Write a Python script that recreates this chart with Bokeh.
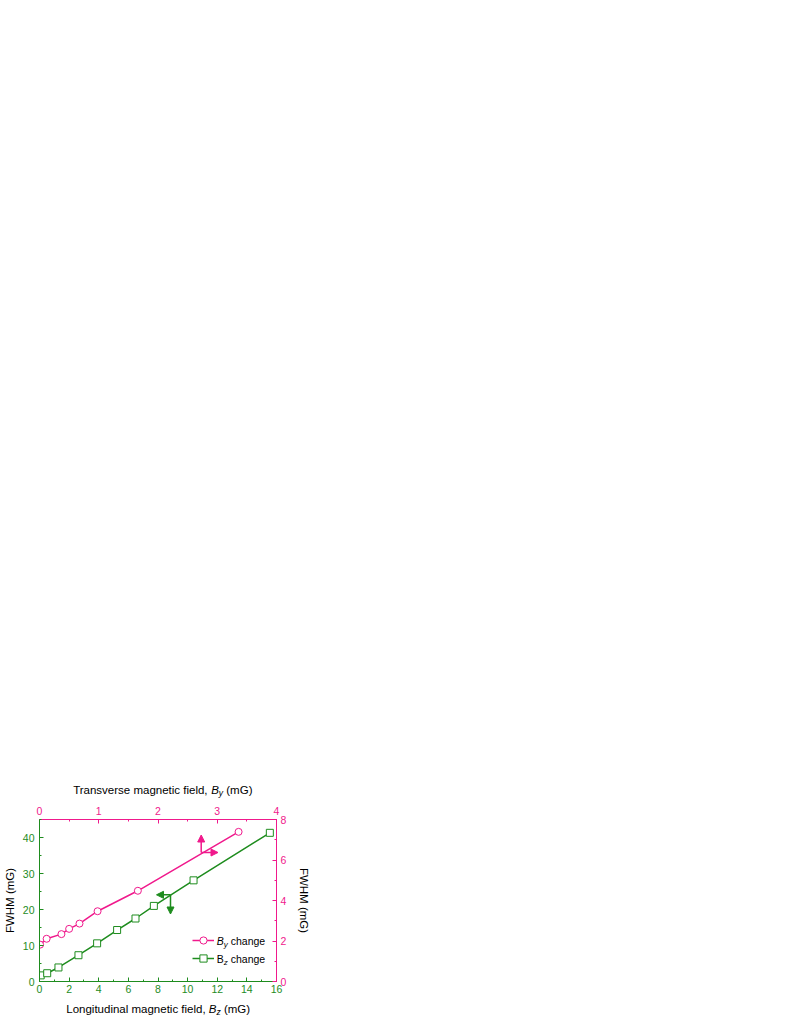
from bokeh.plotting import figure
from bokeh.layouts import column
from bokeh.models import (Range1d, LinearAxis, SingleIntervalTicker, Label, Arrow,
                          NormalHead, Legend, LegendItem, ColumnDataSource)
from bokeh.embed import file_html
from bokeh.resources import INLINE

# ---- data ----
by_field = [0.01, 0.12, 0.37, 0.50, 0.675, 0.98, 1.66, 3.36]      # Transverse field By (mG)
by_fwhm = [1.82, 2.11, 2.34, 2.60, 2.86, 3.47, 4.48, 7.39]        # FWHM (mG), right axis
bz_field = [0.08, 0.52, 1.28, 2.63, 3.89, 5.24, 6.48, 7.72, 10.4, 15.55]  # Longitudinal Bz (mG)
bz_fwhm = [1.7, 2.3, 3.9, 7.3, 10.6, 14.3, 17.5, 21.0, 28.1, 41.3]        # FWHM (mG), left axis

PINK = "#f0198c"
GREEN = "#1e8c1e"
FONT = "Liberation Sans"

# Arial / Liberation Sans advance widths (per 1000 em)
W = {'T': 611, 'r': 333, 'a': 556, 'n': 556, 's': 500, 'v': 500, 'e': 556, ' ': 278,
     'm': 833, 'g': 556, 't': 278, 'i': 222, 'c': 500, 'f': 278, 'l': 222, 'd': 556,
     ',': 278, 'L': 556, 'o': 556, 'u': 556, 'B': 667, 'y': 500, 'z': 500, '(': 333,
     'M': 833, 'G': 778, ')': 333, 'h': 556}


def tw(s, size):
    return sum(W.get(ch, 556) for ch in s) / 1000.0 * size


FW, FH = 237, 162
BL, BR, BT, BB = 37, 40, 21, 18
TOTAL_W = BL + FW + BR

p = figure(frame_width=FW, frame_height=FH,
           x_range=Range1d(0, 16), y_range=Range1d(0, 45),
           output_backend="svg", toolbar_location=None,
           min_border_left=BL, min_border_right=BR, min_border_top=BT, min_border_bottom=BB)
p.extra_x_ranges = {"by": Range1d(0, 4)}
p.extra_y_ranges = {"fw": Range1d(0, 8)}
p.add_layout(LinearAxis(x_range_name="by"), "above")
p.add_layout(LinearAxis(y_range_name="fw"), "right")
p.grid.visible = False
p.outline_line_color = None


def style(ax, color, interval):
    ax.ticker = SingleIntervalTicker(interval=interval, num_minor_ticks=2)
    ax.axis_line_color = color
    ax.axis_line_width = 1
    ax.major_tick_line_color = color
    ax.minor_tick_line_color = color
    ax.major_label_text_color = color
    ax.major_tick_in = 4
    ax.major_tick_out = 0
    ax.minor_tick_in = 2
    ax.minor_tick_out = 0
    ax.major_label_text_font = FONT
    ax.major_label_text_font_size = "10.5px"
    ax.major_label_standoff = 4
    ax.axis_label_text_font = FONT
    ax.axis_label_text_font_size = "11.5px"
    ax.axis_label_text_font_style = "normal"
    ax.axis_label_text_color = "black"


bottom = p.below[0]
left = p.left[0]
top = p.above[0]
right = p.right[0]
style(bottom, GREEN, 2)
style(left, GREEN, 10)
style(top, PINK, 1)
style(right, PINK, 2)
bottom.major_label_standoff = 3
top.major_label_standoff = 5
left.major_label_standoff = 5
left.axis_label = "FWHM (mG)"
left.axis_label_standoff = 4
right.axis_label = "FWHM (mG)"
right.axis_label_standoff = 9

# ---- data series ----
src_z = ColumnDataSource(dict(x=bz_field, y=bz_fwhm))
src_y = ColumnDataSource(dict(x=by_field, y=by_fwhm))

lz = p.line("x", "y", source=src_z, line_color=GREEN, line_width=1.5)
sz = p.scatter("x", "y", source=src_z, marker="square", size=7,
               fill_color="white", line_color=GREEN, line_width=1)
ly = p.line("x", "y", source=src_y, line_color=PINK, line_width=1.5,
            x_range_name="by", y_range_name="fw")
sy = p.scatter("x", "y", source=src_y, marker="circle", size=7,
               fill_color="white", line_color=PINK, line_width=1,
               x_range_name="by", y_range_name="fw")

# ---- legend (samples drawn by Bokeh, rich labels as text) ----
legend = Legend(items=[LegendItem(label=" ", renderers=[ly, sy]),
                       LegendItem(label=" ", renderers=[lz, sz])],
                location=(153, 14), padding=0, margin=0, spacing=0,
                glyph_width=22, glyph_height=18, label_height=18, label_width=1,
                label_standoff=0, label_text_font_size="1px",
                border_line_color=None, background_fill_alpha=0)
p.add_layout(legend, "center")


def rich(fig, parts, x0, yc):
    """parts: (text, size, style, dy); pieces placed left to right from x0 (frame px)."""
    x = x0
    for text, size, fstyle, dy in parts:
        lead = len(text) - len(text.lstrip(" "))
        x += tw(" " * lead, size)
        core = text.strip(" ")
        fig.add_layout(Label(x=x, y=yc + dy, x_units="screen", y_units="screen",
                             text=core, text_font=FONT, text_font_size=f"{size}px",
                             text_font_style=fstyle, text_color="black",
                             text_baseline="middle", text_align="left"))
        x += tw(text.lstrip(" "), size)


def centered(fig, parts, xc, yc):
    total = sum(tw(t, s) for t, s, _, _ in parts)
    rich(fig, parts, xc - total / 2.0, yc)


# legend texts
rich(p, [("B", 10.5, "italic", 0), ("y", 8, "italic", -3.5), (" change", 10.5, "normal", 0)],
     177.3, 41)
rich(p, [("B", 10.5, "normal", 0), ("z", 8, "italic", -3.5), (" change", 10.5, "normal", 0)],
     177.3, 22.7)

# ---- arrows linking each curve to its axes ----
for color, base, tips in [(PINK, (161.7, 129), [(161.7, 146.5), (178.5, 129)]),
                          (GREEN, (131, 86.7), [(131, 67.5), (117, 86.7)])]:
    for tip in tips:
        p.add_layout(Arrow(end=NormalHead(size=7, fill_color=color, line_color=color),
                           x_start=base[0], y_start=base[1], x_end=tip[0], y_end=tip[1],
                           start_units="screen", end_units="screen",
                           line_color=color, line_width=1.5))


# ---- axis titles with italic B and subscripts (text strips above / below the plot) ----
def text_fig(h):
    f = figure(width=TOTAL_W, height=h, x_range=Range1d(0, 1), y_range=Range1d(0, 1),
               output_backend="svg", toolbar_location=None,
               x_axis_location=None, y_axis_location=None, min_border=0)
    f.grid.visible = False
    f.outline_line_color = None
    return f


TOP_H = 798
BOT_H = 18
top_fig = text_fig(TOP_H)
bot_fig = text_fig(BOT_H)

centered(top_fig, [("Transverse magnetic field, ", 11.5, "normal", 0),
                   ("B", 11.5, "italic", 0), ("y", 8.5, "italic", -3.5),
                   (" (mG)", 11.5, "normal", 0)], 123.3, 9)
centered(bot_fig, [("Longitudinal magnetic field, ", 11.5, "normal", 0),
                   ("B", 11.5, "italic", 0), ("z", 8.5, "italic", -3.5),
                   (" (mG)", 11.5, "normal", 0)], 118.7, 9)

layout = column(top_fig, p, bot_fig, spacing=0)
open("out.html", "w").write(file_html(layout, INLINE))
